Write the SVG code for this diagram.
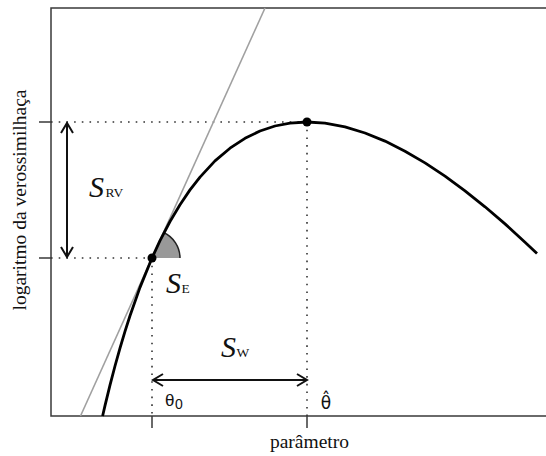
<svg xmlns="http://www.w3.org/2000/svg" width="546" height="456" viewBox="0 0 546 456">
<style>
.axis{stroke:#3a3a3a;stroke-width:1.5;fill:none}
.dot{stroke:#333;stroke-width:1.6;stroke-dasharray:1.6 6.1;fill:none}
.lbl{font-family:"Liberation Serif","Times New Roman",serif;fill:#111}
.scr{font-family:"Liberation Serif","Times New Roman",serif;font-size:30px;font-style:italic;fill:#111}
.sub{font-family:"Liberation Serif","Times New Roman",serif;font-size:13.5px;fill:#111}
.th{font-family:"Liberation Sans",Arial,sans-serif;fill:#111}
.arr{stroke:#111;stroke-width:2;fill:none;marker-start:url(#ah);marker-end:url(#ah)}
</style>
<defs>
<marker id="ah" viewBox="0 0 14 14" refX="12" refY="7" markerWidth="14" markerHeight="14" markerUnits="userSpaceOnUse" orient="auto-start-reverse">
<path d="M2,1 L12,7 L2,13" fill="none" stroke="#111" stroke-width="2"/>
</marker>
</defs>
<rect width="546" height="456" fill="#fff"/>
<g id="axes">
<path class="axis" d="M546,8 H51 V416 H546"/>
<path class="axis" d="M39,122 H51 M39,258 H51 M152,416 V428 M307,416 V428"/>
<text class="lbl" font-size="19.5" text-anchor="middle" transform="translate(26,200) rotate(-90)">logaritmo da verossimilhaça</text>
<text class="lbl" font-size="19.5" x="309.5" y="448" text-anchor="middle">parâmetro</text>
</g>
<g id="guides">
<path class="dot" d="M51,122 H307 M51,258 H152 M152,258 V416 M307,122 V416"/>
</g>
<g id="wedge">
<path d="M152,258 L180,258 A28,28 0 0 0 163.5,232.5 Z" fill="#999"/>
<path d="M180,258 A28,28 0 0 0 163.5,232.5" fill="none" stroke="#222" stroke-width="1.5"/>
</g>
<g id="tangent">
<line x1="80.5" y1="416" x2="265" y2="8" stroke="#a0a0a0" stroke-width="1.6"/>
</g>
<g id="curve">
<polyline fill="none" stroke="#000" stroke-width="2.8" stroke-linejoin="round" points="102.6,416 105,405.6 110,385.1 115,366 120,348.1 125,331.4 130,315.8 140,287.4 152,258 160,240.7 170,221.5 180,204.7 190,189.9 200,177.1 215,160.9 230,148.2 245,138.3 260,131 275,126 290,123.1 307,122 325,123.1 345,126.9 365,133 385,141.1 405,151.2 425,162.9 445,176.2 465,190.8 485,206.8 505,223.9 525,242.2 537,253.6"/>
</g>
<g id="points">
<circle cx="152" cy="258" r="4.5" fill="#000"/>
<circle cx="307" cy="122" r="4.5" fill="#000"/>
</g>
<g id="connectors">
<line class="arr" x1="67" y1="123" x2="67" y2="257"/>
<line class="arr" x1="153" y1="380" x2="307" y2="380"/>
</g>
<g id="label-SRV">
<text y="197"><tspan class="scr" x="89">S</tspan><tspan class="sub" x="105.5">RV</tspan></text>
</g>
<g id="label-SE">
<text y="293"><tspan class="scr" x="166">S</tspan><tspan class="sub" x="181.5">E</tspan></text>
</g>
<g id="label-SW">
<text y="357"><tspan class="scr" x="221">S</tspan><tspan class="sub" x="236.5">W</tspan></text>
</g>
<g id="label-theta0">
<text y="405.5"><tspan class="th" font-size="17" x="165">θ</tspan><tspan class="th" font-size="14" x="175" y="408.5">0</tspan></text>
</g>
<g id="label-thetahat">
<text x="326" y="408.5" text-anchor="middle" font-size="17" font-family="'DejaVu Sans',sans-serif" fill="#111">θ̂</text>
</g>
</svg>
